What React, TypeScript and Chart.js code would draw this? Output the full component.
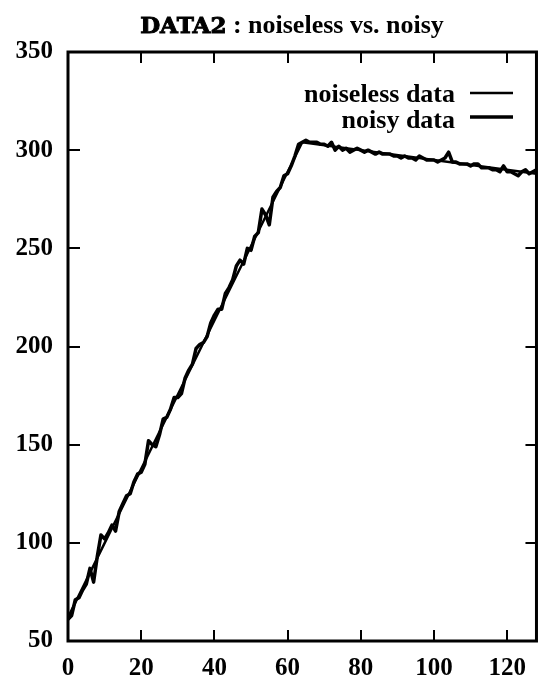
import React, { useEffect, useRef } from "react";
import { Chart, registerables } from "chart.js";

Chart.register(...registerables);

// ---- data ----
const noiselessX = [0, 64, 128];
const noiselessY = [62, 304, 288];

const noisyY = [
  61, 63, 71, 72, 76, 79, 87, 80, 93, 104,
  102, 105, 109, 106, 116, 120, 124, 125, 131, 135,
  136, 140, 152, 150, 149, 155, 163, 164, 168, 174,
  174, 176, 184, 188, 191, 199, 201, 202, 205, 212,
  216, 219, 219, 227, 230, 234, 241, 244, 242, 250,
  249, 256, 258, 270, 267, 262, 276, 279, 281, 287,
  288, 292, 297, 303, 304, 305, 304, 304, 304, 303,
  303, 302, 304, 300, 302, 300, 301, 299, 300, 301,
  300, 299, 300, 299, 298, 299, 298, 298, 298, 297,
  297, 296, 297, 296, 296, 295, 297, 296, 295, 295,
  295, 294, 295, 296, 299, 294, 294, 293, 293, 293,
  292, 293, 293, 291, 291, 291, 290, 290, 289, 292,
  289, 289, 288, 287, 289, 290, 288, 289, 290,
];
const noisyX = noisyY.map((_, i) => i);

const xTickValues = [0, 20, 40, 60, 80, 100, 120];
const yTickValues = [50, 100, 150, 200, 250, 300, 350];
const xMin = 0;
const xMax = 128;
const yMin = 50;
const yMax = 350;

const titleCode = "DATA2";
const titleRest = " : noiseless vs. noisy";
const legendLabels = ["noiseless data", "noisy data"];

const SERIF = "'Liberation Serif', 'Times New Roman', serif";

const decorPlugin = {
  id: "decor",
  afterDatasetsDraw(chart: any) {
    const { ctx, chartArea: a, scales } = chart;
    const x = scales.x;
    const y = scales.y;
    ctx.save();
    ctx.strokeStyle = "#000";
    ctx.lineCap = "butt";
    // inner tick marks
    ctx.lineWidth = 2;
    const tl = 11;
    for (const v of xTickValues) {
      const px = Math.round(x.getPixelForValue(v));
      ctx.beginPath();
      ctx.moveTo(px, a.bottom);
      ctx.lineTo(px, a.bottom - tl);
      ctx.moveTo(px, a.top);
      ctx.lineTo(px, a.top + tl);
      ctx.stroke();
    }
    for (const v of yTickValues) {
      const py = Math.round(y.getPixelForValue(v));
      ctx.beginPath();
      ctx.moveTo(a.left, py);
      ctx.lineTo(a.left + tl + 1, py);
      ctx.moveTo(a.right, py);
      ctx.lineTo(a.right - tl, py);
      ctx.stroke();
    }
    // frame
    ctx.lineWidth = 3;
    ctx.strokeRect(a.left, a.top, a.right - a.left, a.bottom - a.top);

    // legend
    const ds = chart.data.datasets;
    ctx.fillStyle = "#000";
    ctx.font = `bold 26px ${SERIF}`;
    ctx.textAlign = "right";
    ctx.textBaseline = "alphabetic";
    const textRight = 455;
    const baselines = [102, 128];
    const lineYs = [93, 117];
    for (let i = 0; i < legendLabels.length; i++) {
      ctx.fillText(legendLabels[i], textRight, baselines[i]);
      ctx.lineWidth = ds[i].borderWidth;
      ctx.beginPath();
      ctx.moveTo(470, lineYs[i]);
      ctx.lineTo(513, lineYs[i]);
      ctx.stroke();
    }
    ctx.restore();
  },
  afterDraw(chart: any) {
    const { ctx } = chart;
    ctx.save();
    ctx.fillStyle = "#000";
    ctx.strokeStyle = "#000";
    ctx.textBaseline = "alphabetic";
    ctx.textAlign = "left";
    const codeFont = "bold 23px 'DejaVu Serif', serif";
    const restFont = `bold 26px ${SERIF}`;
    ctx.font = codeFont;
    const w1 = ctx.measureText(titleCode).width;
    ctx.font = restFont;
    const w2 = ctx.measureText(titleRest).width;
    const cx = 292;
    const start = cx - (w1 + w2) / 2;
    const base = 33;
    ctx.font = codeFont;
    ctx.lineWidth = 1;
    ctx.fillText(titleCode, start, base);
    ctx.strokeText(titleCode, start, base);
    ctx.font = restFont;
    ctx.fillText(titleRest, start + w1, base);
    ctx.restore();
  },
};

export default function App() {
  const ref = useRef<HTMLCanvasElement>(null);
  useEffect(() => {
    if (!ref.current) return;
    const chart = new Chart(ref.current, {
      type: "line",
      data: {
        datasets: [
          {
            label: legendLabels[0],
            data: noiselessX.map((xv, i) => ({ x: xv, y: noiselessY[i] })),
            borderColor: "#000",
            borderWidth: 2.5,
            pointRadius: 0,
            tension: 0,
            fill: false,
          },
          {
            label: legendLabels[1],
            data: noisyX.map((xv, i) => ({ x: xv, y: noisyY[i] })),
            borderColor: "#000",
            borderWidth: 3.5,
            pointRadius: 0,
            tension: 0,
            fill: false,
            borderJoinStyle: "round",
          },
        ],
      },
      options: {
        responsive: false,
        animation: false,
        devicePixelRatio: 1,
        layout: { padding: { left: 0, right: 1, top: 52, bottom: 0 } },
        plugins: {
          legend: { display: false },
          title: { display: false },
          tooltip: { enabled: false },
        },
        scales: {
          x: {
            type: "linear",
            min: xMin,
            max: xMax,
            grid: { display: false, drawTicks: false },
            border: { display: false },
            afterFit: (s: any) => {
              s.height = 48;
            },
            afterBuildTicks: (s: any) => {
              s.ticks = xTickValues.map((v) => ({ value: v }));
            },
            ticks: {
              includeBounds: false,
              stepSize: 20,
              maxRotation: 0,
              autoSkip: false,
              padding: 13,
              color: "#000",
              font: { family: SERIF, size: 25, weight: "bold" },
            },
          },
          y: {
            type: "linear",
            min: yMin,
            max: yMax,
            grid: { display: false, drawTicks: false },
            border: { display: false },
            afterFit: (s: any) => {
              s.width = 68;
            },
            afterBuildTicks: (s: any) => {
              s.ticks = yTickValues.map((v) => ({ value: v }));
            },
            ticks: {
              includeBounds: false,
              stepSize: 50,
              autoSkip: false,
              padding: 15,
              color: "#000",
              font: { family: SERIF, size: 25, weight: "bold" },
            },
          },
        },
      },
      plugins: [decorPlugin],
    });
    return () => chart.destroy();
  }, []);

  return (
    <div style={{ position: "absolute", left: 0, top: 0, width: 539, height: 689, background: "#fff" }}>
      <canvas ref={ref} width={539} height={689} style={{ display: "block" }} />
    </div>
  );
}
